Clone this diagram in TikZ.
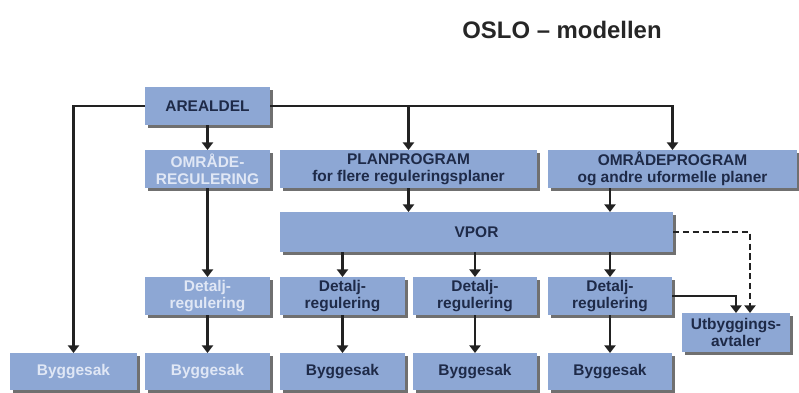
\documentclass[tikz,border=0pt]{standalone}
\usepackage{fontspec}
\setmainfont{Liberation Sans}
\usetikzlibrary{arrows.meta,shadows}

\definecolor{boxblue}{RGB}{141,167,212}
\definecolor{navytext}{RGB}{30,42,72}
\definecolor{paletext}{RGB}{224,231,245}
\definecolor{linegray}{RGB}{34,34,34}

\begin{document}
\begin{tikzpicture}[font=\fontsize{11}{12}\selectfont\bfseries]

% ---- Define Styles ----
\tikzset{
  planbox/.style={
    fill=boxblue, text=navytext, minimum width=3.125cm, minimum height=0.95cm,
    align=center, inner sep=1pt, outer sep=0pt, anchor=north west,
    drop shadow={shadow xshift=0.07cm, shadow yshift=-0.07cm, fill=black!80, opacity=0.7}
  },
  palebox/.style={planbox, text=paletext},
  flow/.style={draw=linegray, line width=1.6pt, -{Triangle[length=5.5pt,width=8pt]}},
  dashflow/.style={flow, dash pattern=on 4.5pt off 2.5pt}
}

\useasboundingbox (0,0) rectangle (19.975,-9.8);

% =========================================================
% TITLE
% =========================================================
\node[font=\fontsize{17}{20}\selectfont\bfseries, text=black!85] (title) at (14.05,-0.75) {OSLO – modellen};

% =========================================================
% TOP ROWS
% =========================================================
\node[planbox] (areal) at (3.625,-2.175) {AREALDEL};
\node[palebox] (omrreg) at (3.625,-3.75) {OMRÅDE-\\REGULERING};
\node[planbox, minimum width=6.425cm] (planprog) at (7.0,-3.75) {PLANPROGRAM\\for flere reguleringsplaner};
\node[planbox, minimum width=6.225cm] (omrprog) at (13.7,-3.75) {OMRÅDEPROGRAM\\og andre uformelle planer};
\node[planbox, minimum width=9.825cm, minimum height=1.0cm] (vpor) at (7.0,-5.3) {VPOR};

% =========================================================
% DETALJREGULERING ROW (y = -6.925)
% =========================================================
\node[palebox] (det1) at (3.625,-6.925) {Detalj-\\regulering};
\node[planbox] (det2) at (7.0,-6.925) {Detalj-\\regulering};
\node[planbox, minimum width=3.1cm] (det3) at (10.325,-6.925) {Detalj-\\regulering};
\node[planbox, minimum width=3.1cm] (det4) at (13.7,-6.925) {Detalj-\\regulering};
\node[planbox, minimum width=2.7cm, minimum height=0.975cm] (utb) at (17.05,-7.825) {Utbyggings-\\avtaler};

% =========================================================
% BYGGESAK ROW (y = -8.825)
% =========================================================
\node[palebox, minimum width=3.175cm, minimum height=0.925cm] (bygg0) at (0.25,-8.825) {Byggesak};
\node[palebox, minimum height=0.925cm] (bygg1) at (3.625,-8.825) {Byggesak};
\node[planbox, minimum height=0.925cm] (bygg2) at (7.0,-8.825) {Byggesak};
\node[planbox, minimum width=3.1cm, minimum height=0.925cm] (bygg3) at (10.325,-8.825) {Byggesak};
\node[planbox, minimum width=3.1cm, minimum height=0.925cm] (bygg4) at (13.7,-8.825) {Byggesak};

% =========================================================
% CONNECTORS
% =========================================================
\draw[flow] (areal.west) -| (bygg0.north);
\draw[flow] (areal.east) -| (omrprog.north);
\draw[flow] (planprog.north |- areal.east) -- (planprog.north);
\draw[flow] (areal.south) -- (omrreg.north);
\draw[flow] (omrreg.south) -- (det1.north);

\draw[flow] (planprog.south) -- (planprog.south |- vpor.north);
\draw[flow] (det4.north |- omrprog.south) -- (det4.north |- vpor.north);

\foreach \d in {det2,det3,det4}
  \draw[flow] (\d.north |- vpor.south) -- (\d.north);

\foreach \d/\b in {det1/bygg1,det2/bygg2,det3/bygg3,det4/bygg4}
  \draw[flow] (\d.south) -- (\b.north);

\draw[flow] (det4.east) -| (utb.north);
\draw[dashflow] (vpor.east) -| ([xshift=0.35cm]utb.north);

\end{tikzpicture}
\end{document}
